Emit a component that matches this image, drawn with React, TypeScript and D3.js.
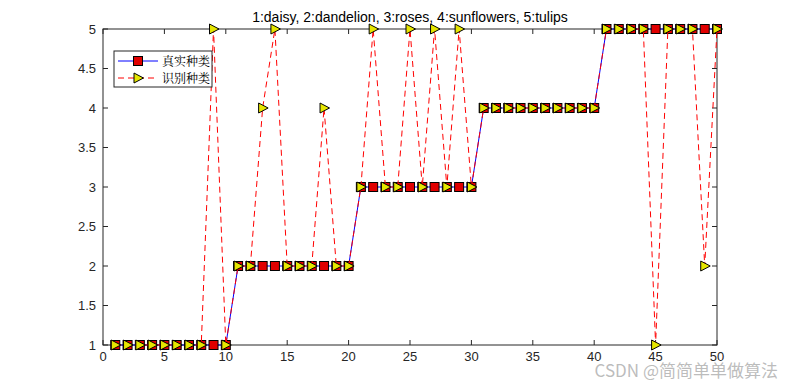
import React from "react";
import * as d3 from "d3";

const sampleIndex: number[] = Array.from({ length: 50 }, (_, i) => i + 1);
const trueClass: number[] = [
  1, 1, 1, 1, 1, 1, 1, 1, 1, 1,
  2, 2, 2, 2, 2, 2, 2, 2, 2, 2,
  3, 3, 3, 3, 3, 3, 3, 3, 3, 3,
  4, 4, 4, 4, 4, 4, 4, 4, 4, 4,
  5, 5, 5, 5, 5, 5, 5, 5, 5, 5,
];
const predClass: number[] = [
  1, 1, 1, 1, 1, 1, 1, 1, 5, 1,
  2, 2, 4, 5, 2, 2, 2, 4, 2, 2,
  3, 5, 3, 3, 5, 3, 5, 3, 5, 3,
  4, 4, 4, 4, 4, 4, 4, 4, 4, 4,
  5, 5, 5, 5, 1, 5, 5, 5, 2, 5,
];
const xTicks: number[] = [0, 5, 10, 15, 20, 25, 30, 35, 40, 45, 50];
const yTicks: number[] = [1, 1.5, 2, 2.5, 3, 3.5, 4, 4.5, 5];
const titleText = "1:daisy, 2:dandelion, 3:roses, 4:sunflowers, 5:tulips";
const legendLabels: string[] = ["真实种类", "识别种类"];
const watermark = "CSDN @简简单单做算法";

const W = 792, H = 389;
const L = 103, R = 717, T = 29, B = 345;
const font = "Arial, 'Liberation Sans', Helvetica, sans-serif";

function tri(cx: number, cy: number) {
  return `M${cx - 4},${cy - 5}L${cx + 5.5},${cy}L${cx - 4},${cy + 5}Z`;
}

export default function App() {
  const x = d3.scaleLinear().domain([0, 50]).range([L, R]);
  const y = d3.scaleLinear().domain([1, 5]).range([B, T]);
  const trueLine = d3.line<number>().x((_, i) => x(sampleIndex[i])).y((d) => y(d))(trueClass) || "";
  const predLine = d3.line<number>().x((_, i) => x(sampleIndex[i])).y((d) => y(d))(predClass) || "";
  const sq = 9;
  const tickLen = 5;
  return (
    <svg width={W} height={H} style={{ position: "absolute", left: 0, top: 0 }}>
      <rect x={0} y={0} width={W} height={H} fill="#fff" />
      {xTicks.map((t) => (
        <g key={"x" + t}>
          <line x1={x(t)} x2={x(t)} y1={B} y2={B - tickLen} stroke="#262626" />
          <line x1={x(t)} x2={x(t)} y1={T} y2={T + tickLen} stroke="#262626" />
          <text x={x(t)} y={B + 16} textAnchor="middle" fontSize={13} fontFamily={font} fill="#262626">{t}</text>
        </g>
      ))}
      {yTicks.map((t) => (
        <g key={"y" + t}>
          <line x1={L} x2={L + tickLen} y1={y(t)} y2={y(t)} stroke="#262626" />
          <line x1={R} x2={R - tickLen} y1={y(t)} y2={y(t)} stroke="#262626" />
          <text x={L - 7} y={y(t) + 4.5} textAnchor="end" fontSize={13} fontFamily={font} fill="#262626">{t}</text>
        </g>
      ))}
      <rect x={L} y={T} width={R - L} height={B - T} fill="none" stroke="#262626" strokeWidth={1} />
      <path d={trueLine} fill="none" stroke="#0000ff" strokeWidth={1} />
      {trueClass.map((v, i) => (
        <rect key={"s" + i} x={x(sampleIndex[i]) - sq / 2} y={y(v) - sq / 2} width={sq} height={sq} fill="#e00000" stroke="#000" strokeWidth={1} />
      ))}
      <path d={predLine} fill="none" stroke="#ff0000" strokeWidth={1} strokeDasharray="6,4" />
      {predClass.map((v, i) => (
        <path key={"t" + i} d={tri(x(sampleIndex[i]), y(v))} fill="#e6e600" stroke="#000" strokeWidth={1} />
      ))}
      <text x={(L + R) / 2} y={22} textAnchor="middle" fontSize={14} fontFamily={font} fill="#000">{titleText}</text>
      <rect x={114} y={51} width={98} height={36} fill="#fff" stroke="#262626" strokeWidth={1} />
      <line x1={118} x2={158} y1={61} y2={61} stroke="#0000ff" />
      <rect x={138 - sq / 2} y={61 - sq / 2} width={sq} height={sq} fill="#e00000" stroke="#000" />
      <text x={162} y={65.5} fontSize={12} fontFamily="'Noto Serif CJK SC', 'Noto Sans CJK SC', serif" fill="#000">{legendLabels[0]}</text>
      <line x1={118} x2={158} y1={78} y2={78} stroke="#ff0000" strokeDasharray="6,4" />
      <path d={tri(138, 78)} fill="#e6e600" stroke="#000" />
      <text x={162} y={82.5} fontSize={12} fontFamily="'Noto Serif CJK SC', 'Noto Sans CJK SC', serif" fill="#000">{legendLabels[1]}</text>
      <text x={778} y={377} textAnchor="end" fontSize={17} fontFamily="'Noto Sans CJK SC', sans-serif" fill="#b0b0b0" fillOpacity={0.85}>{watermark}</text>
    </svg>
  );
}
